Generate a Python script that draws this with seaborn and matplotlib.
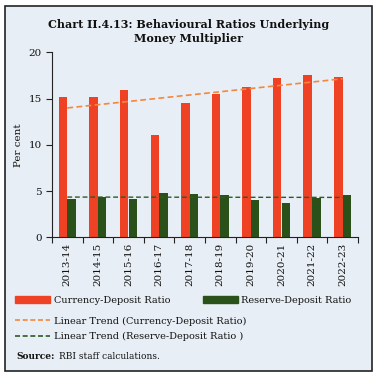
import numpy as np
import pandas as pd
import matplotlib.pyplot as plt
import seaborn as sns
from matplotlib.patches import Rectangle, Patch
from matplotlib.lines import Line2D

years = ['2013-14', '2014-15', '2015-16', '2016-17', '2017-18',
         '2018-19', '2019-20', '2020-21', '2021-22', '2022-23']
currency_deposit = [15.2, 15.2, 15.9, 11.1, 14.5, 15.5, 16.2, 17.2, 17.5, 17.3]
reserve_deposit = [4.1, 4.4, 4.1, 4.8, 4.7, 4.6, 4.0, 3.7, 4.3, 4.6]

bg = '#E8EEF5'
red = '#EF4123'
green = '#2A5119'
orange = '#F4873B'
dkgreen = '#2F5A23'

df = pd.DataFrame({
    'year': years * 2,
    'value': currency_deposit + reserve_deposit,
    'series': ['Currency-Deposit Ratio'] * len(years) + ['Reserve-Deposit Ratio'] * len(years),
})

sns.set_style('ticks')
plt.rcParams['font.family'] = ['DejaVu Serif']
plt.rcParams['text.color'] = '#111111'
plt.rcParams['xtick.color'] = '#111111'
plt.rcParams['ytick.color'] = '#111111'
plt.rcParams['axes.labelcolor'] = '#111111'

fig = plt.figure(figsize=(3.78, 3.77), dpi=100, facecolor='white')
fig.patches.append(Rectangle((0.013, 0.016), 0.971, 0.968, transform=fig.transFigure,
                             facecolor=bg, edgecolor='#222222', linewidth=1.2, zorder=-10))
ax = fig.add_axes([0.1376, 0.3706, 0.8094, 0.4907])
ax.set_facecolor(bg)

sns.barplot(data=df, x='year', y='value', hue='series', palette=[red, green],
            width=0.57, gap=0.03, ax=ax, legend=False, saturation=1, linewidth=0)

# linear trends
x = np.arange(len(years))
p1 = np.polyfit(x, currency_deposit, 1)
p2 = np.polyfit(x, reserve_deposit, 1)
ax.plot(x, np.polyval(p1, x), ls=(0, (3.5, 2)), color=orange, lw=1.2)
ax.plot(x, np.polyval(p2, x), ls=(0, (3.5, 2)), color=dkgreen, lw=1.0)

ax.set_ylim(0, 20)
ax.set_yticks([0, 5, 10, 15, 20])
ax.set_xlim(-0.5, len(years) - 0.5)
ax.set_xticks(x)
ax.set_xticklabels(years, rotation=90, fontsize=7.5)
ax.set_xticks(np.arange(-0.5, len(years)), minor=True)
ax.tick_params(axis='x', which='major', length=0, pad=4)
ax.tick_params(axis='x', which='minor', length=4, width=0.8, color='#222222')
ax.tick_params(axis='y', labelsize=7.5, length=4, width=0.8, color='#222222')
ax.set_xlabel('')
ax.set_ylabel('Per cent', fontsize=7.5)
for s in ['top', 'right']:
    ax.spines[s].set_visible(False)
for s in ['left', 'bottom']:
    ax.spines[s].set_color('#222222')
    ax.spines[s].set_linewidth(0.8)

fig.text(0.5, 0.95, 'Chart II.4.13: Behavioural Ratios Underlying\nMoney Multiplier',
         ha='center', va='top', fontsize=8, fontweight='bold', linespacing=1.35)

h1 = [Patch(color=red), Patch(color=green)]
leg1 = fig.legend(h1, ['Currency-Deposit Ratio', 'Reserve-Deposit Ratio'], ncol=2,
                  loc='upper left', bbox_to_anchor=(0.04, 0.215), frameon=False,
                  fontsize=7, handlelength=3.6, handleheight=0.8, handletextpad=0.35,
                  columnspacing=3.4, borderaxespad=0, borderpad=0)
h2 = [Line2D([], [], color=orange, ls=(0, (3, 1.6)), lw=1.2),
      Line2D([], [], color=dkgreen, ls=(0, (3, 1.6)), lw=1.2)]
leg2 = fig.legend(h2, ['Linear Trend (Currency-Deposit Ratio)', 'Linear Trend (Reserve-Deposit Ratio )'],
                  loc='upper left', bbox_to_anchor=(0.04, 0.16), frameon=False,
                  fontsize=7, handlelength=3.6, handletextpad=0.35, labelspacing=0.65,
                  borderaxespad=0, borderpad=0)

fig.text(0.043, 0.054, 'Source:', fontsize=6.5, fontweight='bold', va='center')
fig.text(0.157, 0.054, 'RBI staff calculations.', fontsize=6.5, va='center')

fig.savefig('out.png', dpi=100, facecolor='white')
